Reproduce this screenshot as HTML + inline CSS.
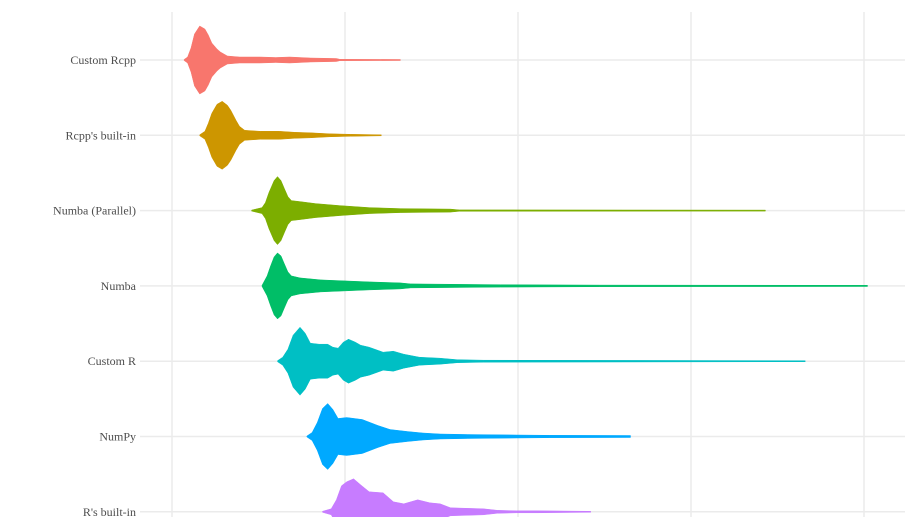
<!DOCTYPE html>
<html><head><meta charset="utf-8"><style>
html,body{margin:0;padding:0;background:#fff;overflow:hidden;}
svg{display:block;overflow:hidden;}
text{font-family:"Liberation Serif",serif;font-size:12px;fill:#4d4d4d;}
</style></head><body>
<svg id="chart" width="918" height="517"></svg>
<script>
const categories=["Custom Rcpp","Rcpp's built-in","Numba (Parallel)","Numba","Custom R","NumPy","R's built-in"];
const colors=["#F8766D","#CD9600","#7CAE00","#00BE67","#00BFC4","#00A9FF","#C77CFF"];
const xTicks=[0,100,200,300,400];
// density profiles: x positions (data units) and half-widths (density units)
const xs0=[7,9,11,13,16,19,21,23,26,28,32,39,51,60,68,80,95,97,132];
const d0=[0,3,12,26,34,31,25,17,11,8,4,3,3,2.5,3,2,1.5,0.7,0.5];
const xs1=[16,19,21,23,26,29,32,34,37,39,42,51,62,71,80,91,103,121];
const d1=[0,4,12,22,31,34,30,25,15,9,5,4,4,3,2.5,1.5,1,0.5];
const xs2=[46,52,54,56,59,61,63,65,67,69,74,83,97,114,132,161,166,343];
const d2=[0,3,8,18,30,34,30,22,14,10,9,7,5,3,2,1.5,0.7,0.5];
const xs3=[52,55,57,59,61,63,65,67,69,74,86,100,114,132,138,190,247,402];
const d3=[0,10,20,29,33,30,22,14,10,8,6,5,4,3,2,1.2,0.8,0.6];
const xs4=[61,64,67,70,74,77,80,85,90,93,96,99,102,106,109,114,122,128,134,143,155,165,180,366];
const d4=[0,4,12,26,34,28,18,17,17,14,13,19,22,19,16,14,9,10,7,4,3,1.5,1,0.5];
const xs5=[78,81,84,87,90,93,96,101,110,119,126,136,145,155,171,199,218,265];
const d5=[0,4,14,28,33,27,18,19,17,11,7,5,3.5,2.5,2,1.5,1.2,1];
const xs6=[87,92,95,98,101,105,109,114,122,128,134,142,149,155,161,180,188,199,211,242];
const d6=[0,3,12,26,30,33,27,20,19,10,8,12,9,8,4,3,1.5,1,1,0.5];
const profX=[xs0,xs1,xs2,xs3,xs4,xs5,xs6];
const profD=[d0,d1,d2,d3,d4,d5,d6];

const NS="http://www.w3.org/2000/svg";
const svg=document.getElementById('chart');
const xScale=v=>172+v*1.73;
const yScale=i=>60+i*75.3;
const wScale=d=>d*1.0;
function mk(t,a){const e=document.createElementNS(NS,t);for(const k in a)e.setAttribute(k,a[k]);svg.appendChild(e);return e;}
xTicks.forEach(t=>{
  const l=mk('line',{x1:xScale(t),x2:xScale(t),y1:12,y2:517,stroke:'#ebebeb','stroke-width':1.5});
  
  
});
categories.forEach((c,i)=>{
  const l=mk('line',{x1:140,x2:905,y1:yScale(i),y2:yScale(i),stroke:'#ebebeb','stroke-width':1.5});
  
  
});
categories.forEach((c,i)=>{
  const cy=yScale(i),X=profX[i],D=profD[i];
  let top=[],bot=[];
  for(let k=0;k<X.length;k++){const w=Math.max(wScale(D[k]),0.5);top.push(xScale(X[k]).toFixed(1)+','+(cy-w).toFixed(1));bot.unshift(xScale(X[k]).toFixed(1)+','+(cy+w).toFixed(1));}
  const p=mk('polygon',{points:top.concat(bot).join(' '),fill:colors[i],stroke:colors[i],'stroke-width':0.5,'stroke-linejoin':'round'});
  
  
  const t=mk('text',{x:136,y:cy+4,'text-anchor':'end'});
  t.textContent=c;
  
  
});
</script>
</body></html>
